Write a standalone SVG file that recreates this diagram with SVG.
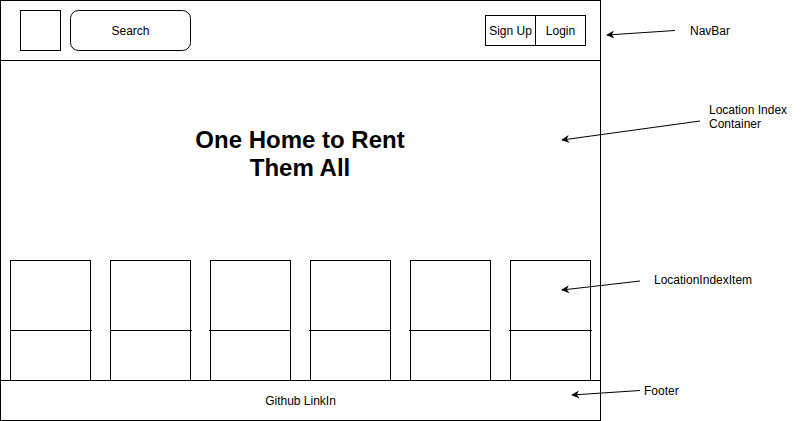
<svg xmlns="http://www.w3.org/2000/svg" width="808" height="421" viewBox="0 0 808 421">
<style>
.b{fill:#fff;stroke:#000;stroke-width:1}
.t{font-family:"Liberation Sans",Arial,sans-serif;font-size:12px;fill:#000}
.c{text-anchor:middle}
.h{font-family:"Liberation Sans",Arial,sans-serif;font-size:24px;font-weight:bold;text-anchor:middle;fill:#000}
.ln{stroke:#000;stroke-width:1;fill:none}
.e{stroke:#000;stroke-width:1;fill:none;marker-end:url(#ah)}
</style>
<defs>
<marker id="ah" viewBox="0 0 10 10" refX="9" refY="5" markerWidth="8" markerHeight="8" markerUnits="userSpaceOnUse" orient="auto">
<path d="M0,0 L10,5 L0,10 L3,5 Z" fill="#000"/>
</marker>
</defs>
<rect width="808" height="421" fill="#fff"/>
<g id="container">
<rect class="b" x="0.5" y="0.5" width="600" height="420"/>
<text class="h" x="300" y="148">One Home to Rent</text>
<text class="h" x="300" y="176">Them All</text>
</g>
<g id="navbar">
<rect class="b" x="0.5" y="0.5" width="600" height="60"/>
</g>
<g id="logo"><rect class="b" x="20.5" y="10.5" width="40" height="40"/></g>
<g id="search"><rect class="b" x="70.5" y="10.5" width="120" height="40" rx="8"/><text class="t c" x="130.5" y="35">Search</text></g>
<g id="signup"><rect class="b" x="485.5" y="15.5" width="50" height="30"/><text class="t c" x="510.5" y="35">Sign Up</text></g>
<g id="login"><rect class="b" x="535.5" y="15.5" width="50" height="30"/><text class="t c" x="560.5" y="35">Login</text></g>
<g id="item1"><rect class="b" x="10.5" y="260.5" width="80" height="120"/><line class="ln" x1="10" y1="330.5" x2="92" y2="330.5"/></g>
<g id="item2"><rect class="b" x="110.5" y="260.5" width="80" height="120"/><line class="ln" x1="110" y1="330.5" x2="192" y2="330.5"/></g>
<g id="item3"><rect class="b" x="210.5" y="260.5" width="80" height="120"/><line class="ln" x1="209" y1="330.5" x2="291" y2="330.5"/></g>
<g id="item4"><rect class="b" x="310.5" y="260.5" width="80" height="120"/><line class="ln" x1="309" y1="330.5" x2="391" y2="330.5"/></g>
<g id="item5"><rect class="b" x="410.5" y="260.5" width="80" height="120"/><line class="ln" x1="409" y1="330.5" x2="491" y2="330.5"/></g>
<g id="item6"><rect class="b" x="510.5" y="260.5" width="80" height="120"/><line class="ln" x1="509" y1="330.5" x2="592" y2="330.5"/></g>
<g id="footer"><rect class="b" x="0.5" y="380.5" width="600" height="40"/><text class="t c" x="300.5" y="405">Github LinkIn</text></g>
<g id="labels">
<text class="t" x="690" y="35">NavBar</text>
<text class="t" x="709" y="114">Location Index</text>
<text class="t" x="709" y="128">Container</text>
<text class="t" x="654" y="284">LocationIndexItem</text>
<text class="t" x="644" y="395">Footer</text>
</g>
<g id="connectors">
<path class="e" d="M675,30.5 L607,35"/>
<path class="e" d="M700,121 L562,140"/>
<path class="e" d="M640,281 L562,290"/>
<path class="e" d="M640,390.5 L572,395"/>
</g>
</svg>
